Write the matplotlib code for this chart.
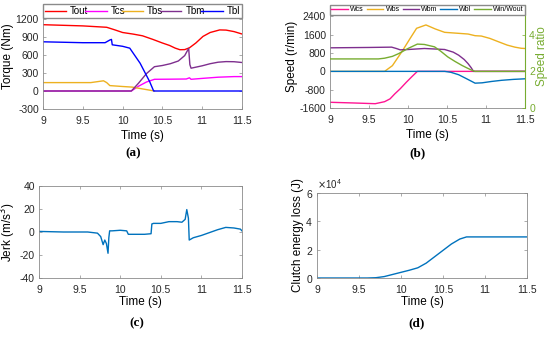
import matplotlib
matplotlib.use("Agg")
from matplotlib import pyplot as plt
from matplotlib.ticker import ScalarFormatter
import numpy as np

# (a) torques, Nm
t_out = [9, 9.5, 9.8, 9.9, 10.0, 10.13, 10.25, 10.38, 10.5, 10.59, 10.66, 10.72, 10.78, 10.84, 10.92, 11.01, 11.1, 11.22, 11.3, 11.4, 11.5]
tout = [1105, 1085, 1062, 1020, 975, 949, 920, 860, 800, 759, 715, 688, 690, 720, 800, 910, 975, 1018, 1015, 990, 950]
t_cs = [9, 10.11, 10.2, 10.3, 10.4, 10.6, 10.8, 10.84, 10.86, 11.0, 11.2, 11.4, 11.5]
tcs = [0, 0, 80, 150, 195, 197, 200, 220, 195, 210, 230, 240, 240]
t_bs = [9, 9.6, 9.76, 9.8, 9.84, 10.0, 10.12, 10.4]
tbs = [140, 140, 170, 140, 90, 75, 65, 0]
t_bm = [9, 10.11, 10.2, 10.3, 10.4, 10.5, 10.6, 10.7, 10.78, 10.83, 10.845, 10.86, 11.0, 11.1, 11.2, 11.3, 11.4, 11.5]
tbm = [0, 0, 130, 290, 405, 425, 455, 500, 590, 710, 440, 380, 420, 455, 480, 490, 488, 475]
t_bl = [9, 9.5, 9.78, 9.84, 9.86, 9.87, 10.0, 10.09, 10.22, 10.34, 10.39, 10.4, 11.5]
tbl = [820, 805, 805, 850, 860, 770, 745, 714, 463, 156, 0, 0, 0]

# (b) speeds, r/min, and speed ratio
t_wcs = [9, 9.3, 9.58, 9.7, 9.77, 9.83, 9.9, 9.98, 10.05, 10.12, 11.5]
wcs = [-1350, -1380, -1412, -1324, -1200, -985, -760, -470, -230, 0, 0]
t_wbs = [9, 9.7, 9.8, 9.92, 10.02, 10.11, 10.23, 10.35, 10.47, 10.65, 10.77, 10.86, 10.94, 11.05, 11.16, 11.27, 11.37, 11.45, 11.5]
wbs = [0, 0, 250, 853, 1400, 1882, 2029, 1853, 1706, 1662, 1632, 1559, 1544, 1440, 1294, 1150, 1059, 1010, 1000]
t_wbm = [9, 9.5, 9.79, 9.85, 9.9, 10.0, 10.21, 10.47, 10.58, 10.65, 10.72, 10.77, 10.81, 10.84, 11.5]
wbm = [1029, 1045, 1059, 1000, 941, 955, 1000, 956, 840, 706, 520, 338, 160, 0, 0]
t_wbl = [9, 10.47, 10.55, 10.65, 10.75, 10.86, 10.95, 11.07, 11.2, 11.35, 11.5]
wbl = [0, 0, -40, -147, -320, -515, -500, -441, -390, -350, -324]
t_ratio = [9, 9.62, 9.7, 9.8, 9.88, 10.0, 10.12, 10.21, 10.34, 10.42, 10.51, 10.6, 10.69, 10.76, 10.82, 10.86, 11.5]
ratio = [2.68, 2.68, 2.72, 2.82, 2.97, 3.25, 3.49, 3.47, 3.34, 3.1, 2.79, 2.55, 2.33, 2.18, 2.06, 2.0, 2.0]

# (c) jerk, m/s^3
t_jerk = [9, 9.3, 9.6, 9.72, 9.76, 9.79, 9.81, 9.83, 9.85, 9.86, 9.87, 9.9, 10.0, 10.08, 10.1, 10.2, 10.3, 10.38, 10.39, 10.41, 10.5, 10.6, 10.7, 10.76, 10.8, 10.82, 10.84, 10.85, 10.9, 11.0, 11.1, 11.2, 11.3, 11.4, 11.48, 11.5]
jerk = [0.5, 0, 0, -1, -4, -11, -7, -10, -18.5, -5, 1, 1, 1.5, 1, -2, -2, -2, -1.5, 7, 7.5, 7.5, 9, 9, 8.5, 11, 19.5, 12, -7, -5, -3, -0.5, 2, 4, 3.5, 2.5, 1]

# (d) clutch energy loss, J
t_loss = [9, 9.6, 9.7, 9.8, 9.9, 10.0, 10.1, 10.2, 10.3, 10.4, 10.5, 10.6, 10.7, 10.78, 10.83, 11.5]
loss = [0, 0, 200, 1000, 2500, 4000, 5500, 7200, 10500, 15000, 19500, 24000, 27500, 29000, 29000, 29000]

xticks = [9, 9.5, 10, 10.5, 11, 11.5]

plt.rcParams['font.family'] = ['Liberation Sans', 'DejaVu Sans']
plt.rcParams['axes.unicode_minus'] = False
plt.rcParams['font.size'] = 7

W, H = 550, 338
fig = plt.figure(figsize=(5.5, 3.38), dpi=100)


def box(l, t, r, b):
    return [l / W, 1 - b / H, (r - l) / W, (b - t) / H]


def style(ax, right=True):
    for s in ax.spines.values():
        s.set_color('#8a8a8a')
        s.set_linewidth(0.6)
    ax.tick_params(direction='in', length=2.5, width=0.5, colors='#8a8a8a',
                   labelcolor='#262626', labelsize=7.5, top=True, right=right)
    ax.tick_params(axis='x', pad=5)
    ax.tick_params(axis='y', pad=3)
    ax.set_xlim(9, 11.5)
    ax.set_xticks(xticks)
    ax.set_xticklabels(['9', '9.5', '10', '10.5', '11', '11.5'])


# (a)
ax1 = fig.add_axes(box(43, 4, 242, 109))
ax1.plot(t_out, tout, color='#ff0000', lw=1, label='Tout')
ax1.plot(t_cs, tcs, color='#ff00ff', lw=1, label='Tcs')
ax1.plot(t_bs, tbs, color='#edb120', lw=1, label='Tbs')
ax1.plot(t_bm, tbm, color='#7e2f8e', lw=1, label='Tbm')
ax1.plot(t_bl, tbl, color='#0000ff', lw=1, label='Tbl')
style(ax1)
ax1.set_ylim(-300, 1450)
ax1.set_yticks([-300, 0, 300, 600, 900, 1200])
ax1.set_ylabel('Torque (Nm)', fontsize=8.5, labelpad=1)
ax1.set_xlabel('Time (s)', fontsize=8.5)
ax1.xaxis.set_label_coords(0.5, -0.2)
ax1.legend(loc='upper left', bbox_to_anchor=(0, 1, 1, 0), mode='expand', ncol=5,
           fontsize=7, handlelength=2.2, handletextpad=0.4, borderpad=0.2,
           columnspacing=0.4, fancybox=False, edgecolor='#8a8a8a', framealpha=1,
           borderaxespad=0)

# (b)
ax2 = fig.add_axes(box(330, 5, 525, 108))
ax2.plot(t_wcs, wcs, color='#ff1493', lw=1, label='Wcs')
ax2.plot(t_wbs, wbs, color='#edb120', lw=1, label='Wbs')
ax2.plot(t_wbm, wbm, color='#7e2f8e', lw=1, label='Wbm')
ax2.plot(t_wbl, wbl, color='#0072bd', lw=1, label='Wbl')
style(ax2, right=False)
ax2.set_ylim(-1600, 2900)
ax2.set_yticks([-1600, -800, 0, 800, 1600, 2400])
ax2.set_ylabel('Speed (r/min)', fontsize=8.5, labelpad=1)
ax2.set_xlabel('Time (s)', fontsize=8.5)
ax2.xaxis.set_label_coords(0.5, -0.2)
ax2r = ax2.twinx()
ax2r.plot(t_ratio, ratio, color='#77ac30', lw=1, label='Win/Wout')
ax2r.set_ylim(0, (2900 + 1600) / 800)
ax2r.set_yticks([0, 2, 4])
for s in ax2r.spines.values():
    s.set_visible(False)
ax2r.spines['right'].set_visible(True)
ax2r.spines['right'].set_color('#77ac30')
ax2r.tick_params(direction='in', length=2.5, width=0.5, colors='#77ac30', labelsize=7.5, pad=3)
ax2r.set_ylabel('Speed ratio', fontsize=8.5, color='#77ac30', labelpad=1)
h1, l1 = ax2.get_legend_handles_labels()
h2, l2 = ax2r.get_legend_handles_labels()
ax2r.legend(h1 + h2, l1 + l2, loc='upper left', bbox_to_anchor=(0, 1, 1, 0), mode='expand',
            ncol=5, fontsize=5, handlelength=2.4, handletextpad=0.3, borderpad=0.2,
            columnspacing=0.3, fancybox=False, edgecolor='#8a8a8a', framealpha=1,
            borderaxespad=0)

# (c)
ax3 = fig.add_axes(box(39, 186, 242, 278))
ax3.plot(t_jerk, jerk, color='#0072bd', lw=1)
style(ax3)
ax3.set_ylim(-40, 40)
ax3.set_yticks([-40, -20, 0, 20, 40])
ax3.set_ylabel('Jerk (m/s$^3$)', fontsize=8.5, labelpad=1)
ax3.set_xlabel('Time (s)', fontsize=8.5, labelpad=1)

# (d)
ax4 = fig.add_axes(box(317, 193, 527, 278))
ax4.plot(t_loss, loss, color='#0072bd', lw=1)
style(ax4)
ax4.set_ylim(0, 60000)
ax4.set_yticks([0, 20000, 40000, 60000])
fmt = ScalarFormatter(useMathText=True)
fmt.set_powerlimits((0, 0))
ax4.yaxis.set_major_formatter(fmt)
ax4.yaxis.get_offset_text().set_fontsize(7)
ax4.yaxis.get_offset_text().set_color('#262626')
ax4.set_ylabel('Clutch energy loss (J)', fontsize=8.5, labelpad=1)
ax4.set_xlabel('Time (s)', fontsize=8.5, labelpad=1)

for lab, x, y in [('(a)', 133, 153), ('(b)', 417, 153), ('(c)', 137, 323), ('(d)', 417, 323)]:
    fig.text(x / W, 1 - y / H, lab, ha='center', va='center', fontsize=9.5,
             family='Liberation Serif', weight='bold')

plt.savefig('out.png', dpi=100)
